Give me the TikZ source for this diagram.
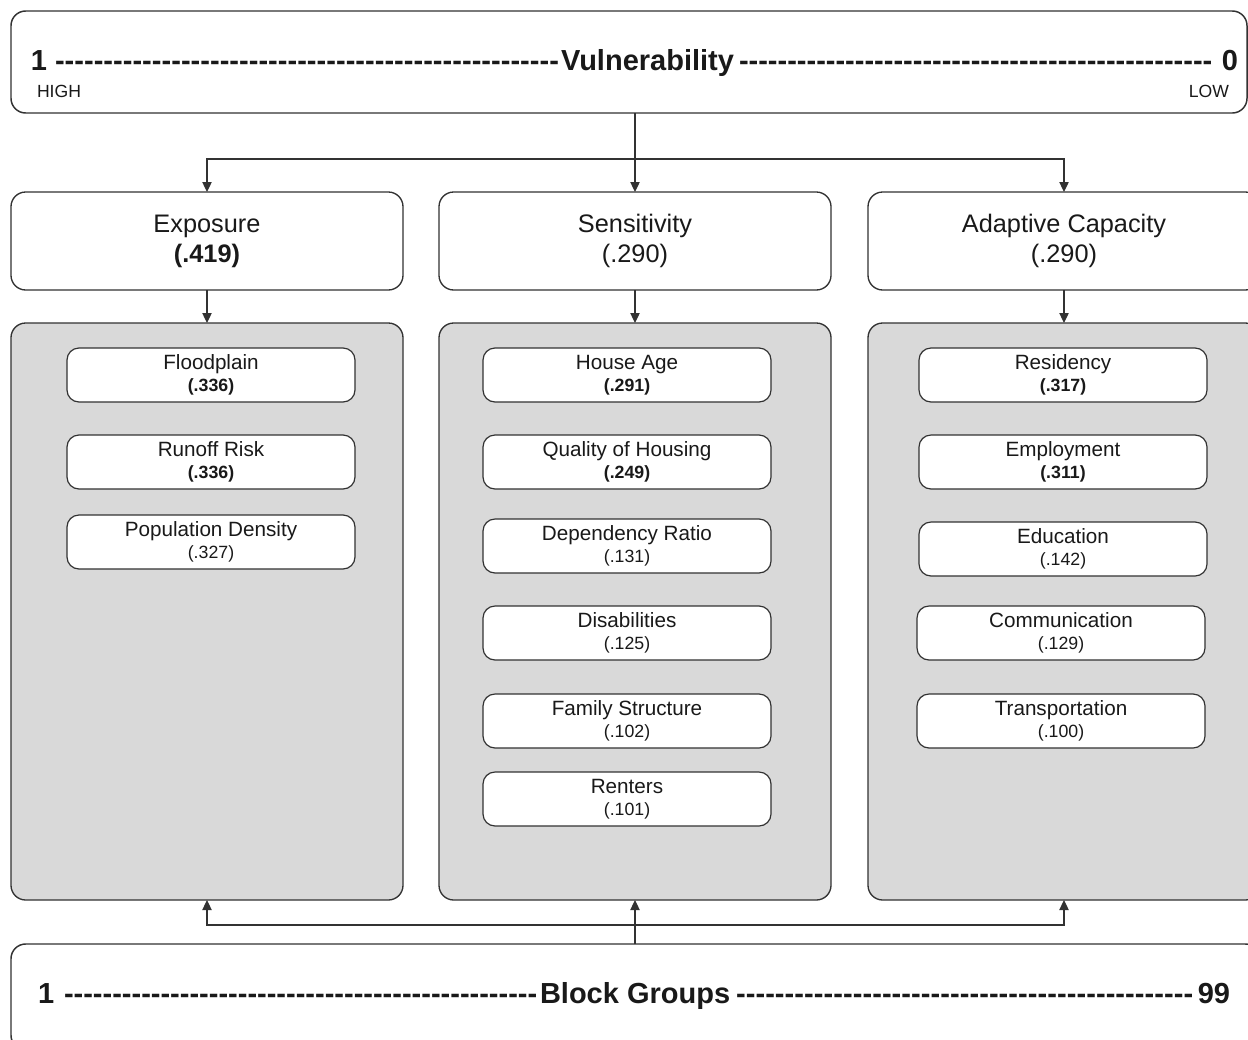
\documentclass[tikz,border=0pt]{standalone}
\usepackage{fontspec}
\setmainfont{Liberation Sans}
\usetikzlibrary{arrows.meta}
\definecolor{panelgray}{RGB}{217,217,217}
\definecolor{linecol}{RGB}{50,50,50}
\definecolor{txtcol}{RGB}{25,25,25}
\newcommand{\dashrun}[1]{\hbox to #1{\xleaders\hbox{-}\hfill}}
\tikzset{
  every node/.style={text=txtcol, inner sep=0pt, outer sep=0pt},
  bigbox/.style={draw=linecol, line width=1.1pt, fill=white, rounded corners=11pt},
  headbox/.style={draw=linecol, line width=1.0pt, fill=white, rounded corners=11pt,
    minimum width=294pt, minimum height=73.5pt, align=center,
    font=\fontsize{19pt}{22.5pt}\selectfont},
  panel/.style={draw=linecol, line width=1.0pt, fill=panelgray, rounded corners=11pt,
    minimum width=294pt, minimum height=432.75pt},
  itembox/.style={draw=linecol, line width=0.9pt, fill=white, rounded corners=9pt,
    minimum width=216pt, minimum height=40.5pt, align=center,
    font=\fontsize{15.5pt}{16.5pt}\selectfont},
  bigtxt/.style={font=\fontsize{21.75pt}{26pt}\selectfont\bfseries, anchor=base west},
  smalltxt/.style={font=\fontsize{13.2pt}{15pt}\selectfont},
  arr/.style={draw=linecol, line width=0.9pt, -{Triangle[length=7.5pt,width=7pt]}},
}
\newcommand{\nb}[1]{{\fontsize{13.3pt}{16.5pt}\selectfont\bfseries #1}}
\newcommand{\nn}[1]{{\fontsize{13.3pt}{16.5pt}\selectfont #1}}
\begin{document}
\begin{tikzpicture}[x=0.75pt,y=-0.75pt]
\useasboundingbox (0,0) rectangle (1248,1039);
\clip (0,0) rectangle (1248,1039);
\fill[white] (0,0) rectangle (1248,1039);

% top box
\node[bigbox, minimum width=927pt, minimum height=76.5pt] (top) at (629,62) {};
\node[bigtxt] (t1) at (31,70) {1};
\node[bigtxt] (td1) at (55,70) {\dashrun{378pt}};
\node[bigtxt] (tv) at (561,70) {Vulnerability};
\node[bigtxt] (td2) at (739,70) {\dashrun{355pt}};
\node[bigtxt, anchor=base east] (t0) at (1238,70) {0};
\node[smalltxt, anchor=base west] (high) at (37,97) {HIGH};
\node[smalltxt, anchor=base east] (low) at (1229,97) {LOW};

% header boxes
\node[headbox] (expo) at (207,241) {Exposure\\{\bfseries (.419)}};
\node[headbox] (sens) at (635,241) {Sensitivity\\(.290)};
\node[headbox] (adap) at (1064,241) {Adaptive Capacity\\(.290)};

% panels
\node[panel] (expop) at (207,611.5) {};
\node[panel] (sensp) at (635,611.5) {};
\node[panel] (adapp) at (1064,611.5) {};

% exposure items
\node[itembox] (flood) at (211,375) {Floodplain\\\nb{(.336)}};
\node[itembox] (runoff) at (211,462) {Runoff Risk\\\nb{(.336)}};
\node[itembox] (popd) at (211,542) {Population Density\\\nn{(.327)}};

% sensitivity items
\node[itembox] (hage) at (627,375) {House Age\\\nb{(.291)}};
\node[itembox] (qual) at (627,462) {Quality of Housing\\\nb{(.249)}};
\node[itembox] (dep) at (627,546) {Dependency Ratio\\\nn{(.131)}};
\node[itembox] (dis) at (627,633) {Disabilities\\\nn{(.125)}};
\node[itembox] (fam) at (627,721) {Family Structure\\\nn{(.102)}};
\node[itembox] (rent) at (627,799) {Renters\\\nn{(.101)}};

% adaptive items
\node[itembox] (res) at (1063,375) {Residency\\\nb{(.317)}};
\node[itembox] (emp) at (1063,462) {Employment\\\nb{(.311)}};
\node[itembox] (edu) at (1063,549) {Education\\\nn{(.142)}};
\node[itembox] (comm) at (1061,633) {Communication\\\nn{(.129)}};
\node[itembox] (trans) at (1061,721) {Transportation\\\nn{(.100)}};

% bottom box
\node[bigbox, minimum width=936.75pt, minimum height=79.5pt] (bot) at (635.5,997) {};
\node[bigtxt] (b1) at (38,1003) {1};
\node[bigtxt] (bd1) at (64,1003) {\dashrun{355pt}};
\node[bigtxt] (bg) at (540,1003) {Block Groups};
\node[bigtxt] (bd2) at (736,1003) {\dashrun{343pt}};
\node[bigtxt, anchor=base east] (b99) at (1230,1003) {99};

% connectors top
\coordinate (tj) at (636,159);
\draw[arr] (top.south -| sens.north) -- (sens.north);
\draw[arr] (tj) -| (expo.north);
\draw[arr] (tj) -| (adap.north);
\draw[arr] (expo.south) -- (expop.north);
\draw[arr] (sens.south) -- (sensp.north);
\draw[arr] (adap.south) -- (adapp.north);

% connectors bottom
\coordinate (bj) at (636,925);
\draw[arr] (bot.north -| sensp.south) -- (sensp.south);
\draw[arr] (bj) -| (expop.south);
\draw[arr] (bj) -| (adapp.south);
\end{tikzpicture}
\end{document}
